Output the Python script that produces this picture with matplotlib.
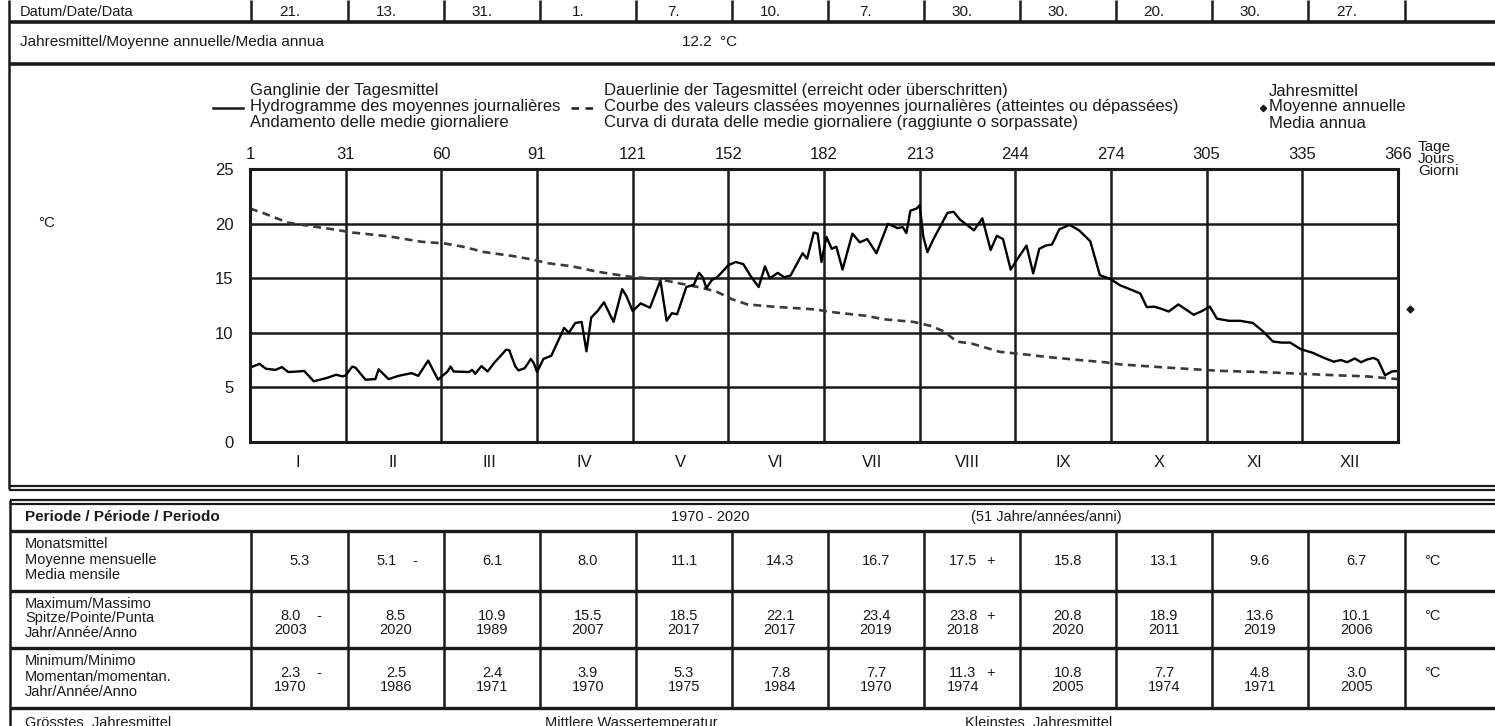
import numpy as np
import matplotlib
matplotlib.use("Agg")
import matplotlib.pyplot as plt
from matplotlib import transforms

W, H, DPI = 1495, 726, 100

# ---- data -------------------------------------------------------------
month_edges = [1, 31, 60, 91, 121, 152, 182, 213, 244, 274, 305, 335, 366]
month_names = ["I", "II", "III", "IV", "V", "VI", "VII", "VIII", "IX", "X", "XI", "XII"]

daily_days = [1, 4, 6, 9, 11, 13, 16, 18, 21, 25, 28, 30, 31, 33, 34, 37, 40, 41, 44, 47,
              51, 53, 56, 59, 62, 63, 64, 69, 70, 71, 73, 75, 77, 81, 82, 84, 85, 87, 89, 90,
              91, 93, 95.5, 98, 99.5, 101, 103, 105, 106.5, 108, 110, 112, 115, 117.7, 119, 121,
              123.6, 126.6, 130, 132, 133.7, 135.4, 138.4, 140.8, 142.5, 143.7, 144.9, 146.7,
              148.4, 152, 154.3, 156.7, 159, 161.5, 163.5, 165, 167.5, 169.5, 171.5, 175.3,
              176.7, 178.8, 180, 181.2, 182.8, 184.5, 186, 188, 191.2, 193.6, 196, 199, 202.7,
              205.8, 207.5, 208.7, 210, 212, 213, 214.2, 215.5, 217.3, 222, 224, 226, 230.6,
              233.3, 236, 238, 240, 242.5, 244.5, 247.5, 249.6, 251.5, 253.5, 255.5, 257.8,
              261, 264, 267.5, 270.5, 274, 277, 281, 283.5, 285.6, 288, 290.3, 292.7, 295.8,
              298.5, 300.8, 303.5, 306, 308.2, 312, 315.5, 319.5, 322.6, 325.8, 328.5, 331.2,
              334.5, 338.5, 342, 345.2, 347.5, 349.5, 352, 354, 356, 358, 359.5, 361.8, 364, 366]
daily_temp = [6.8, 7.15, 6.7, 6.6, 6.85, 6.4, 6.45, 6.5, 5.55, 5.85, 6.15, 6.0, 6.1, 6.9, 6.8,
              5.7, 5.75, 6.65, 5.75, 6.05, 6.3, 6.05, 7.45, 5.7, 6.45, 6.9, 6.45, 6.4, 6.6,
              6.25, 6.95, 6.45, 7.2, 8.45, 8.4, 6.9, 6.55, 6.75, 7.6, 7.2, 6.4, 7.6, 7.9, 9.5,
              10.45, 10.0, 10.9, 11.0, 8.3, 11.4, 12.0, 12.8, 11.0, 14.0, 13.4, 12.0, 12.7,
              12.3, 14.8, 11.1, 11.8, 11.7, 14.2, 14.4, 15.5, 15.1, 14.1, 14.85, 15.1, 16.2,
              16.5, 16.3, 15.2, 14.2, 16.1, 15.0, 15.5, 15.1, 15.25, 17.3, 16.8, 19.2, 19.1,
              16.5, 18.8, 17.7, 17.9, 15.8, 19.1, 18.3, 18.6, 17.3, 20.0, 19.6, 19.7, 19.15,
              21.2, 21.4, 21.7, 18.8, 17.4, 18.5, 21.0, 21.1, 20.4, 19.4, 20.5, 17.6, 18.9,
              18.6, 15.8, 16.7, 18.0, 15.45, 17.7, 18.0, 18.1, 19.5, 19.9, 19.4, 18.4, 15.3,
              14.9, 14.35, 13.9, 13.6, 12.35, 12.4, 12.2, 11.95, 12.6, 12.1, 11.65, 12.0, 12.4,
              11.3, 11.1, 11.1, 10.9, 10.15, 9.2, 9.1, 9.1, 8.5, 8.15, 7.7, 7.35, 7.5, 7.3,
              7.65, 7.3, 7.55, 7.7, 7.5, 6.1, 6.45, 6.5]

duration_days = [1, 5, 13, 22, 27, 33, 44, 54, 61, 67, 74, 83, 90, 94, 102, 110, 120, 130, 135,
                 143, 148, 153, 158, 166, 179, 186, 196, 201, 211, 217, 221, 225, 230, 239, 246,
                 255, 266, 272, 277, 290, 301, 310, 322, 334, 346, 356, 366]
duration_temp = [21.4, 21.0, 20.1, 19.7, 19.5, 19.2, 18.85, 18.35, 18.2, 17.9, 17.4, 17.05, 16.7,
                 16.4, 16.1, 15.6, 15.15, 14.9, 14.6, 14.15, 13.8, 13.1, 12.6, 12.4, 12.15, 11.85,
                 11.55, 11.25, 11.0, 10.6, 10.1, 9.2, 9.0, 8.25, 8.05, 7.75, 7.45, 7.3, 7.1, 6.85,
                 6.65, 6.5, 6.4, 6.25, 6.1, 6.0, 5.75]

annual_mean = 12.2
peak_dates = ["21.", "13.", "31.", "1.", "7.", "10.", "7.", "30.", "30.", "20.", "30.", "27."]

monthly_mean = [5.3, 5.1, 6.1, 8.0, 11.1, 14.3, 16.7, 17.5, 15.8, 13.1, 9.6, 6.7]
monthly_max = [8.0, 8.5, 10.9, 15.5, 18.5, 22.1, 23.4, 23.8, 20.8, 18.9, 13.6, 10.1]
monthly_max_year = [2003, 2020, 1989, 2007, 2017, 2017, 2019, 2018, 2020, 2011, 2019, 2006]
monthly_min = [2.3, 2.5, 2.4, 3.9, 5.3, 7.8, 7.7, 11.3, 10.8, 7.7, 4.8, 3.0]
monthly_min_year = [1970, 1986, 1971, 1970, 1975, 1984, 1970, 1974, 2005, 1974, 1971, 2005]

# ---- page --------------------------------------------------------------
plt.rcParams["font.family"] = ["Liberation Sans", "DejaVu Sans"]
FS = 10.5      # table text
LFS = 12       # chart legend text
INK = "#1a1a1a"

fig = plt.figure(figsize=(W / DPI, H / DPI), dpi=DPI)
fig.patch.set_facecolor("white")
bg = fig.add_axes([0, 0, 1, 1])
bg.set_xlim(0, W)
bg.set_ylim(H, 0)
bg.axis("off")

col_x = [251, 348, 444, 540, 636, 732, 828, 924, 1020, 1116, 1212, 1308, 1405]
col_c = [(a + b) / 2 for a, b in zip(col_x[:-1], col_x[1:])]


def hline(y, x0=9, x1=W, lw=2.2):
    bg.plot([x0, x1], [y, y], color=INK, lw=lw, solid_capstyle="butt")


def vline(x, y0, y1, lw=1.8):
    bg.plot([x, x], [y0, y1], color=INK, lw=lw, solid_capstyle="butt")


def txt(x, y, s, ha="left", size=FS, **kw):
    bg.text(x, y, s, ha=ha, va="center", fontsize=size, color=INK, **kw)


# top rows (peak dates, annual mean)
vline(9, 0, 489)
for x in col_x:
    vline(x, 0, 21)
txt(20, 12, "Datum/Date/Data")
for c, s in zip(col_c, peak_dates):
    txt(c - 10, 12, s, ha="center", size=FS + 0.5)
hline(22, lw=2.6)
txt(20, 42, "Jahresmittel/Moyenne annuelle/Media annua", size=FS + 0.5)
txt(682, 42, f"{annual_mean:.1f}  °C", size=FS + 0.5)
hline(64, lw=2.6)

# chart legend block
txt(250, 91, "Ganglinie der Tagesmittel", size=LFS)
txt(250, 107, "Hydrogramme des moyennes journalières", size=LFS)
txt(250, 123, "Andamento delle medie giornaliere", size=LFS)
bg.plot([213, 243], [108, 108], color=INK, lw=1.8)
txt(604, 91, "Dauerlinie der Tagesmittel (erreicht oder überschritten)", size=LFS)
txt(604, 107, "Courbe des valeurs classées moyennes journalières (atteintes ou dépassées)", size=LFS)
txt(604, 123, "Curva di durata delle medie giornaliere (raggiunte o sorpassate)", size=LFS)
bg.plot([571, 599], [108, 108], color=INK, lw=1.8, dashes=(3.0, 2.6))
txt(1269, 91, "Jahresmittel", size=LFS)
txt(1269, 107, "Moyenne annuelle", size=LFS)
txt(1269, 123, "Media annua", size=LFS)
bg.plot([1263], [108], marker="D", ms=3.2, color=INK)
txt(1418, 147, "Tage", size=FS + 0.5)
txt(1418, 159, "Jours", size=FS + 0.5)
txt(1418, 171, "Giorni", size=FS + 0.5)
txt(38, 223, "°C", size=FS + 0.5)

hline(486, lw=1.6)
hline(490, lw=1.6)

# ---- chart -------------------------------------------------------------
left, right, top, bottom = 250, 1398, 169.3, 441.8
ax = fig.add_axes([left / W, 1 - bottom / H, (right - left) / W, (bottom - top) / H])
edges = np.array(month_edges, dtype=float)
idx = np.arange(len(edges), dtype=float)
ax.set_xscale("function", functions=(lambda d: np.interp(d, edges, idx),
                                     lambda m: np.interp(m, idx, edges)))
ax.set_xlim(1, 366)
ax.set_ylim(0, 25)
ax.set_xticks(month_edges)
ax.set_xticklabels([str(d) for d in month_edges])
ax.xaxis.tick_top()
ax.set_yticks([0, 5, 10, 15, 20, 25])
ax.tick_params(axis="both", length=0, labelsize=LFS, colors=INK)
ax.tick_params(axis="x", pad=5)
ax.tick_params(axis="y", pad=12)
ax.grid(True, color=INK, lw=1.8)
ax.set_axisbelow(True)
for sp in ax.spines.values():
    sp.set_linewidth(2.2)
    sp.set_color(INK)

ax.plot(duration_days, duration_temp, color="#3a3a3a", lw=1.9, dashes=(3.0, 2.0))
ax.plot(daily_days, daily_temp, color="black", lw=1.7)

mid = [np.interp(i + 0.5, idx, edges) for i in range(12)]
for m, name in zip(mid, month_names):
    ax.text(m, -0.075, name, transform=ax.get_xaxis_transform(), ha="center", va="center",
            fontsize=LFS, color=INK)

mark_tr = transforms.offset_copy(ax.transData, fig=fig, x=12, y=0, units="dots")
ax.plot([366], [annual_mean], marker="D", ms=3.5, color=INK, transform=mark_tr, clip_on=False)

# ---- lower table ---------------------------------------------------------
y_top, rows = 502, [531, 591, 648, 708]
hline(y_top - 2, x0=10, lw=1.6)
hline(y_top + 2, x0=10, lw=1.6)
vline(10, y_top - 2, H)
txt(25, 517, "Periode / Période / Periodo", fontweight="bold", size=FS + 0.5)
txt(710, 517, "1970 - 2020", ha="center")
txt(1046, 517, "(51 Jahre/années/anni)", ha="center")
for y in rows:
    hline(y, x0=10, lw=2.4)
for x in col_x:
    vline(x, rows[0], rows[-1])

labels = [("Monatsmittel", "Moyenne mensuelle", "Media mensile"),
          ("Maximum/Massimo", "Spitze/Pointe/Punta", "Jahr/Année/Anno"),
          ("Minimum/Minimo", "Momentan/momentan.", "Jahr/Année/Anno")]
for (y0, y1), lab in zip(zip(rows[:-1], rows[1:]), labels):
    h = y1 - y0
    for k, s in enumerate(lab):
        txt(25, y0 + h * (0.22 + 0.26 * k), s)


def flag(values):
    lo, hi = int(np.argmin(values)), int(np.argmax(values))
    return {lo: "-", hi: "+"}


def value_row(yv, values, years=None):
    marks = flag(values)
    for i, (c, v) in enumerate(zip(col_c, values)):
        dx = -9 if i in marks else 0
        txt(c + dx, yv, f"{v:.1f}", ha="center")
        if years is not None:
            txt(c + dx, yv + 14, str(years[i]), ha="center")
        if i in marks:
            txt(c + 19, yv, marks[i], ha="center")
    txt(1432, yv, "°C", ha="center")


value_row(561, monthly_mean)
value_row(616, monthly_max, monthly_max_year)
value_row(673, monthly_min, monthly_min_year)

txt(25, 723, "Grösstes  Jahresmittel")
txt(545, 723, "Mittlere Wassertemperatur")
txt(965, 723, "Kleinstes  Jahresmittel")

fig.savefig("out.png", dpi=DPI, facecolor="white")
